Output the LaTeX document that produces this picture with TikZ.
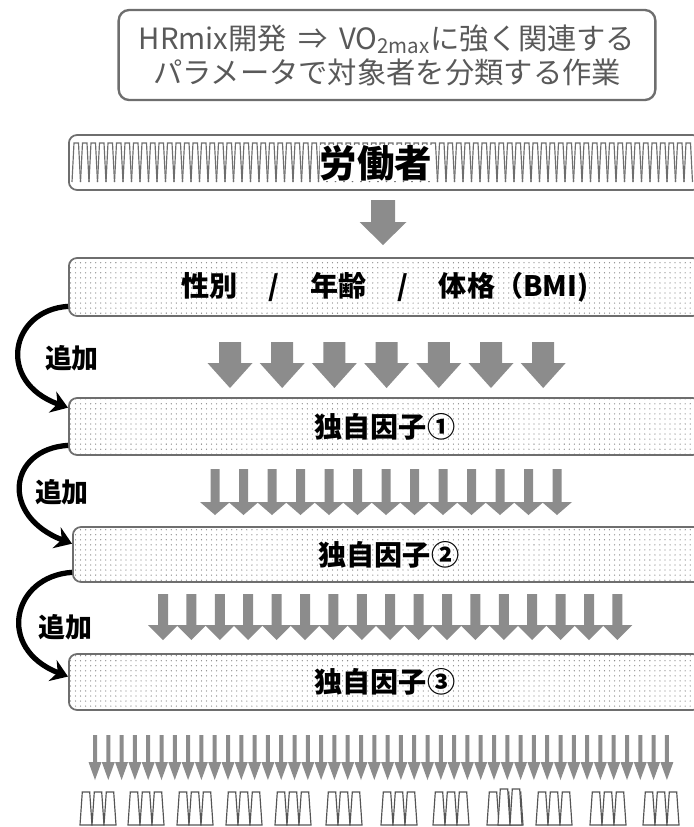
\documentclass[tikz,border=0pt]{standalone}
\usepackage{fontspec}
\setmainfont{Noto Sans CJK JP}
\usetikzlibrary{arrows.meta,patterns.meta,positioning}

\definecolor{framegray}{HTML}{6E6E6E}
\definecolor{arrowgray}{HTML}{8C8C8C}
\definecolor{titlegray}{HTML}{595959}
\definecolor{workergray}{HTML}{555555}

% block arrow pointing down: x, top, neck, tip, half shaft, half head
\newcommand{\downblock}[6]{%
  \fill[arrowgray] (#1-#5,#2) -- (#1+#5,#2) -- (#1+#5,#3) -- (#1+#6,#3)
    -- (#1,#4) -- (#1-#6,#3) -- (#1-#5,#3) -- cycle;}

\tikzset{
  titlebox/.style={draw=framegray,line width=2pt,rounded corners=9pt,
    minimum width=16.1cm,minimum height=2.7cm,align=center,text=titlegray,
    font=\fontsize{25}{29}\selectfont},
  layer/.style={draw=framegray,line width=1.5pt,rounded corners=7pt,
    pattern={Dots[distance=4.3pt,radius=.55pt]},pattern color=gray,
    minimum width=18.96cm,anchor=west,
    font=\fontsize{24}{28}\selectfont\bfseries},
  addarrow/.style={line width=4.5pt,-{Stealth[length=14pt,width=19pt]}},
  addlabel/.style={font=\fontsize{23}{26}\selectfont\bfseries},
  worker/.style={workergray,line width=1pt,fill=white},
}

\begin{document}
\begin{tikzpicture}[x=.03cm,y=-.03cm]
\useasboundingbox (0,0) rectangle (694,827);
\clip (0,0) rectangle (694,827);

\node[titlebox] (title) at (387,55)
  {HRmix開発\,\ ⇒\ \,VO\textsubscript{2max}に強く関連する\\パラメータで対象者を分類する作業};

% workers band
\node[draw=framegray,line width=1.5pt,rounded corners=7pt,minimum width=18.96cm,
  minimum height=1.65cm,anchor=west] (band) at (68,162.5) {};
\foreach \i in {0,...,72}
  \draw[framegray,line width=1pt] (72+8.5*\i,182) -- ++(2,-39) -- ++(4.5,0) -- ++(2,39);
\node[fill=white,inner sep=0pt,font=\fontsize{32}{34}\selectfont\bfseries] (workers) at (376,163) {労働者};

\downblock{383}{200}{222}{245}{12}{23.5}

% layers
\node[layer,minimum height=1.74cm] (b1) at (68,287)
  {性別\hspace{1.1em}/\hspace{1.1em}年齢\hspace{1.1em}/\hspace{1.1em}体格（BMI)};
\node[layer,minimum height=1.71cm] (b2) at (68,426.5) {独自因子①};
\node[layer,minimum height=1.65cm] (b3) at (72,554.5) {独自因子②};
\node[layer,minimum height=1.68cm] (b4) at (68,682) {独自因子③};

\foreach \i in {0,...,6}
  {\downblock{230+52.2*\i}{342}{363}{388}{11}{22.5}}
\foreach \i in {0,...,12}
  {\downblock{215+28.5*\i}{469}{502}{515}{4.5}{15}}
\foreach \i in {0,...,16}
  {\downblock{163+28.4*\i}{594}{625}{640}{5}{15}}
\foreach \i in {0,...,43}
  {\downblock{95+13.3*\i}{735}{762}{780}{2}{6.5}}

% adding factors
\draw[addarrow] ([yshift=9pt]b1.south west) .. controls +(-58,4) and +(-72,-26) .. ([yshift=-9pt]b2.north west);
\draw[addarrow] ([yshift=9pt]b2.south west) .. controls +(-60,4) and +(-72,-28) .. ([yshift=-15pt]b3.north west);
\draw[addarrow] ([yshift=9pt]b3.south west) .. controls +(-60,4) and +(-72,-28) .. ([yshift=-20pt]b4.north west);
\node[addlabel] (add1) at (72,358) {追加};
\node[addlabel] (add2) at (62,492) {追加};
\node[addlabel] (add3) at (65,627) {追加};

% classified groups
\foreach \g in {80,128,177,226,275,326,381,433,487,536,590,643}
  \foreach \j in {0,1,2}
    \draw[worker] (\g+12*\j,825) -- ++(2.3,-33) -- ++(7.4,0) -- ++(2.3,33) -- cycle;
\draw[worker] (498,825) -- ++(2.3,-36) -- ++(7.4,0) -- ++(2.3,36) -- cycle;
\draw[worker] (510,825) -- ++(2.3,-36) -- ++(7.4,0) -- ++(2.3,36) -- cycle;
\end{tikzpicture}
\end{document}
